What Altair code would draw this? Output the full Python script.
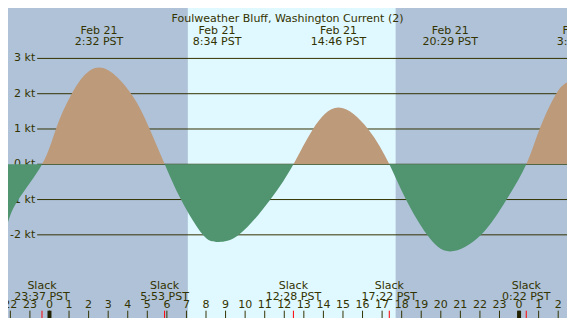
import altair as alt
import pandas as pd

# ---- data (hours relative to Feb 21 00:00 PST) ----
curve_hours = [-2.12, -1.59, -0.38, 0.33, 1.14, 2.53, 4.17, 5.12, 5.89, 6.72, 7.84, 8.6,
               9.68, 11.29, 12.47, 13.47, 14.77, 16.28, 17.37, 18.22, 19.3, 20.48, 22.06,
               23.36, 24.37, 25.05, 25.9, 26.45]
curve_knots = [-1.64, -1.0, 0.0, 1.0, 2.0, 2.74, 2.0, 1.0, 0.0, -1.0, -2.0, -2.2,
               -2.0, -1.0, 0.0, 1.0, 1.61, 1.0, 0.0, -1.0, -2.0, -2.47, -2.0,
               -1.0, 0.0, 1.0, 2.0, 2.32]

event_hours = [2.533, 8.567, 14.767, 20.483, 27.17]
event_dates = ["Feb 21", "Feb 21", "Feb 21", "Feb 21", "Feb 22"]
event_times = ["2:32 PST", "8:34 PST", "14:46 PST", "20:29 PST", "3:10 PST"]

slack_hours = [-0.383, 5.883, 12.467, 17.367, 24.367]
slack_times = ["23:37 PST", "5:53 PST", "12:28 PST", "17:22 PST", "0:22 PST"]

grid_knots = [-2, -1, 0, 1, 2, 3]
grid_labels = ["-2 kt", "-1 kt", "0 kt", "1 kt", "2 kt", "3 kt"]

tick_hours = list(range(-2, 27))
tick_labels = [str(h % 24) for h in tick_hours]
midnight_hours = [0, 24]

sunrise, sunset = 7.07, 17.7
x_domain = [-2.12, 26.45]
y_domain = [-4.357, 4.429]

title_text = "Foulweather Bluff, Washington Current (2)"

# ---- style ----
W, H = 559, 310
sx, sy = W / 575, H / 326
NIGHT, DAY = "#AFC2D8", "#E0F8FF"
FLOOD, EBB = "#BD9A7A", "#509470"
INK = "#333300"
FONT = "DejaVu Sans"
FS = 11

X = alt.X("h:Q", scale=alt.Scale(domain=x_domain, nice=False, zero=False), axis=None)
Ys = alt.Scale(domain=y_domain, nice=False, zero=False)

bg = pd.DataFrame({"h": [x_domain[0], sunrise, sunset], "h2": [sunrise, sunset, x_domain[1]],
                   "c": [NIGHT, DAY, NIGHT]})
bg_layer = alt.Chart(bg).mark_rect().encode(
    x=X, x2="h2:Q", y=alt.value(0), y2=alt.value(H), color=alt.Color("c:N", scale=None))

grid = pd.DataFrame({"v": grid_knots, "lab": grid_labels})
grid_layer = alt.Chart(grid).mark_rule(color=INK, strokeWidth=1).encode(
    x=alt.value(30 * sx), x2=alt.value(W), y=alt.Y("v:Q", scale=Ys, axis=None))
ylab_layer = alt.Chart(grid).mark_text(align="right", baseline="middle", font=FONT,
                                       fontSize=FS, color=INK).encode(
    x=alt.value(28 * sx), y=alt.Y("v:Q", scale=Ys, axis=None), text="lab:N")

curve = pd.DataFrame({"h": curve_hours, "v": curve_knots})
vmax, vmin = max(curve_knots), min(curve_knots)
off = vmax / (vmax - vmin)
grad = {"gradient": "linear", "x1": 0, "y1": 0, "x2": 0, "y2": 1,
        "stops": [{"offset": 0, "color": FLOOD}, {"offset": off, "color": FLOOD},
                  {"offset": off, "color": EBB}, {"offset": 1, "color": EBB}]}
area_layer = alt.Chart(curve).mark_area(interpolate="natural", color=grad).encode(
    x=X, y=alt.Y("v:Q", scale=Ys, axis=None), y2=alt.datum(0))

ticks = pd.DataFrame({"h": tick_hours, "lab": tick_labels})
tick_layer = alt.Chart(ticks).mark_rule(color=INK, strokeWidth=1).encode(
    x=X, y=alt.value(318.3 * sy), y2=alt.value(H))
ticklab_layer = alt.Chart(ticks).mark_text(align="center", baseline="alphabetic", font=FONT,
                                           fontSize=FS, color=INK).encode(
    x=X, y=alt.value(315.7 * sy), text="lab:N")
mid = pd.DataFrame({"h": midnight_hours})
mid_layer = alt.Chart(mid).mark_rule(color="#222200", strokeWidth=4).encode(
    x=X, y=alt.value(318.3 * sy), y2=alt.value(H))

slack = pd.DataFrame({"h": slack_hours, "t": slack_times, "s": ["Slack"] * len(slack_hours)})
slack_tick = alt.Chart(slack).mark_rule(color="#FF0000", strokeWidth=1).encode(
    x=X, y=alt.value(318.3 * sy), y2=alt.value(H))
slack_l1 = alt.Chart(slack).mark_text(align="center", font=FONT, fontSize=FS, color=INK).encode(
    x=X, y=alt.value(292 * sy), text="s:N")
slack_l2 = alt.Chart(slack).mark_text(align="center", font=FONT, fontSize=FS, color=INK).encode(
    x=X, y=alt.value(304 * sy), text="t:N")

ev = pd.DataFrame({"h": event_hours, "d": event_dates, "t": event_times})
ev_l1 = alt.Chart(ev).mark_text(align="center", font=FONT, fontSize=FS, color=INK).encode(
    x=X, y=alt.value(24 * sy), text="d:N")
ev_l2 = alt.Chart(ev).mark_text(align="center", font=FONT, fontSize=FS, color=INK).encode(
    x=X, y=alt.value(36 * sy), text="t:N")

title_layer = alt.Chart(pd.DataFrame({"t": [title_text]})).mark_text(
    align="center", font=FONT, fontSize=FS, color=INK).encode(
    x=alt.value(287.5 * sx), y=alt.value(12 * sy), text="t:N")

chart = alt.layer(
    bg_layer, grid_layer, ylab_layer, area_layer, tick_layer, mid_layer, slack_tick,
    ticklab_layer, slack_l1, slack_l2, ev_l1, ev_l2, title_layer
).properties(
    width=W, height=H, padding=0, autosize=alt.AutoSizeParams(type="none"),
    background=NIGHT
).configure_view(stroke=None)

chart.save("out.html", embed_options={"renderer": "svg", "actions": False})
